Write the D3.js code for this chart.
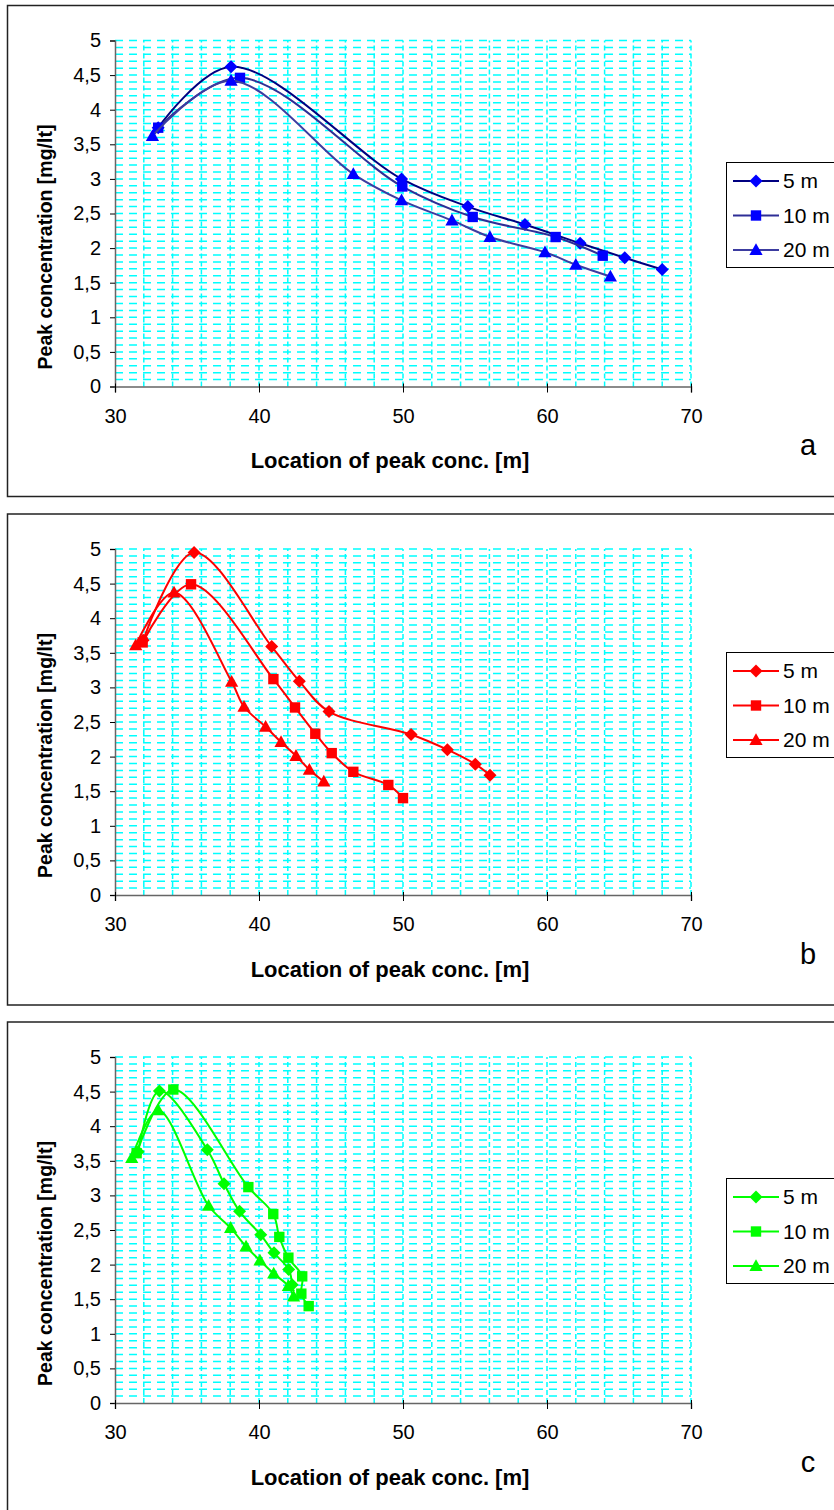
<!DOCTYPE html>
<html><head><meta charset="utf-8">
<script src="https://cdn.jsdelivr.net/npm/d3@7"></script>
<style>body{margin:0;background:#fff} svg{display:block}</style>
</head><body><svg id="chart" width="834" height="1510"></svg>
<script>
// ---------- data ----------
const xTicks = [30, 40, 50, 60, 70];
const yTicks = [0, 0.5, 1, 1.5, 2, 2.5, 3, 3.5, 4, 4.5, 5];
const yTickLabels = ["0", "0,5", "1", "1,5", "2", "2,5", "3", "3,5", "4", "4,5", "5"];
const seriesNames = ["5 m", "10 m", "20 m"];
const panelLetters = ["a", "b", "c"];
const xTitle = "Location of peak conc. [m]";
const yTitle = "Peak concentration [mg/lt]";

// panel a (blue)
const a5x  = [33.0, 38.06, 49.9, 54.5, 58.47, 62.3, 65.4, 68.0];
const a5y  = [3.74, 4.62, 3.0, 2.60, 2.34, 2.07, 1.86, 1.69];
const a10x = [33.0, 38.68, 49.95, 54.84, 60.6, 63.87];
const a10y = [3.74, 4.46, 2.89, 2.45, 2.16, 1.89];
const a20x = [32.6, 38.06, 46.55, 49.9, 53.4, 56.04, 59.86, 62.0, 64.4];
const a20y = [3.62, 4.42, 3.07, 2.69, 2.40, 2.16, 1.94, 1.76, 1.59];

// panel b (red)
const b5x  = [31.95, 35.49, 40.88, 42.8, 44.86, 50.56, 53.08, 55.02, 56.04];
const b5y  = [3.68, 4.95, 3.59, 3.09, 2.65, 2.32, 2.10, 1.89, 1.73];
const b10x = [31.92, 35.28, 41.0, 42.5, 43.91, 45.05, 46.55, 48.98, 50.0];
const b10y = [3.65, 4.49, 3.12, 2.71, 2.33, 2.05, 1.78, 1.59, 1.40];
const b20x = [31.44, 34.1, 38.1, 38.96, 40.46, 41.53, 42.57, 43.5, 44.5];
const b20y = [3.61, 4.37, 3.08, 2.72, 2.43, 2.21, 2.01, 1.81, 1.64];

// panel c (green)
const c5x  = [31.6, 33.08, 36.41, 37.57, 38.65, 40.12, 41.04, 42.06, 42.3];
const c5y  = [3.63, 4.51, 3.66, 3.17, 2.77, 2.43, 2.17, 1.93, 1.71];
const c10x = [31.5, 34.05, 39.26, 40.99, 41.41, 42.04, 43.0, 42.94, 43.45];
const c10y = [3.61, 4.53, 3.12, 2.73, 2.40, 2.10, 1.83, 1.58, 1.40];
const c20x = [31.16, 33.0, 36.5, 38.03, 39.1, 40.07, 41.02, 42.04, 42.4];
const c20y = [3.54, 4.23, 2.85, 2.53, 2.26, 2.06, 1.87, 1.69, 1.54];

const panelSeries = [
  [[a5x, a5y], [a10x, a10y], [a20x, a20y]],
  [[b5x, b5y], [b10x, b10y], [b20x, b20y]],
  [[c5x, c5y], [c10x, c10y], [c20x, c20y]]
];
const markerColors = ["#0000FF", "#FF0000", "#00FF00"];
const lineColors = [["#000080", "#2E2E96", "#3C3CA0"], ["#FF0000", "#FF0000", "#FF0000"], ["#00FF00", "#00FF00", "#00FF00"]];
const markerTypes = ["diamond", "square", "triangle"];

// ---------- layout ----------
const panelOffsets = [0, 508.5, 1016.5];
const legendTops = [162, 652, 1178];
const svg = d3.select("#chart");
const FONT = "'Liberation Sans', Arial, sans-serif";

function markerPath(type) {
  if (type === "diamond") return "M0,-6.5L6.5,0L0,6.5L-6.5,0Z";
  if (type === "square") return "M-5.2,-5.2H5.2V5.2H-5.2Z";
  return "M0,-6.8L6.6,5H-6.6Z";
}

panelOffsets.forEach((off, p) => {
  const g = svg.append("g");
  const x = d3.scaleLinear().domain([30, 70]).range([115, 691]);
  const y = d3.scaleLinear().domain([0, 5]).range([386.5 + off, 40.5 + off]);

  // panel border
  g.append("rect").attr("x", 7.5).attr("y", 5.5 + off).attr("width", 900).attr("height", 491)
    .attr("fill", "none").attr("stroke", "#222").attr("stroke-width", 1.5);

  // grid
  const hGrid = d3.range(1, 51).map(i => i / 10);
  g.append("g").selectAll("line").data(hGrid).join("line")
    .attr("x1", x(30)).attr("x2", x(70))
    .attr("y1", d => y(d)).attr("y2", d => y(d))
    .attr("stroke", "#00FFFF").attr("stroke-width", 1.5).attr("stroke-dasharray", "8,6");
  const vGrid = d3.range(32, 71, 2);
  g.append("g").selectAll("line").data(vGrid).join("line")
    .attr("x1", d => x(d)).attr("x2", d => x(d))
    .attr("y1", y(0)).attr("y2", y(5))
    .attr("stroke", "#00FFFF").attr("stroke-width", 1.5).attr("stroke-dasharray", "5,3");

  // axes
  const yAxis = d3.axisLeft(y).tickValues(yTicks).tickSize(5).tickFormat((d, i) => yTickLabels[i]);
  const ya = g.append("g").attr("transform", `translate(${x(30)},0)`).call(yAxis);
  const xAxis = d3.axisBottom(x).tickValues(xTicks).tickSize(6).tickFormat(d => d);
  const xa = g.append("g").attr("transform", `translate(0,${y(0)})`).call(xAxis);
  [ya, xa].forEach(a => {
    a.select(".domain").attr("stroke", "#666").attr("stroke-width", 1.5);
    a.selectAll(".tick line").attr("stroke", "#000").attr("stroke-width", 1);
    a.selectAll("text").attr("font-family", FONT).attr("font-size", 20).attr("fill", "#000");
  });
  ya.selectAll(".tick text").attr("x", -14);
  xa.selectAll(".tick text").attr("y", 22);
  xa.selectAll(".tick line").attr("y1", -3);

  // titles
  g.append("text").attr("x", 390).attr("y", 468 + off).attr("text-anchor", "middle")
    .attr("font-family", FONT).attr("font-weight", "bold").attr("font-size", 22).text(xTitle);
  g.append("text").attr("transform", `translate(52,${247 + off}) rotate(-90)`).attr("text-anchor", "middle")
    .attr("font-family", FONT).attr("font-weight", "bold").attr("font-size", 19.5).text(yTitle);
  g.append("text").attr("x", 808).attr("y", 455 + off).attr("text-anchor", "middle")
    .attr("font-family", FONT).attr("font-size", 29).text(panelLetters[p]);

  // series
  const line = d3.line().x(d => x(d[0])).y(d => y(d[1])).curve(d3.curveCatmullRom.alpha(0.5));
  panelSeries[p].forEach((s, k) => {
    const pts = s[0].map((v, i) => [v, s[1][i]]);
    g.append("path").datum(pts).attr("d", line).attr("fill", "none")
      .attr("stroke", lineColors[p][k]).attr("stroke-width", 2);
    g.append("g").selectAll("path").data(pts).join("path")
      .attr("transform", d => `translate(${x(d[0])},${y(d[1])})`)
      .attr("d", markerPath(markerTypes[k])).attr("fill", markerColors[p]);
  });

  // legend
  const lt = legendTops[p];
  const lg = g.append("g");
  lg.append("rect").attr("x", 726.5).attr("y", lt + 0.5).attr("width", 200).attr("height", 105)
    .attr("fill", "#fff").attr("stroke", "#000").attr("stroke-width", 1);
  seriesNames.forEach((name, k) => {
    const ly = lt + 19 + k * 34.5;
    lg.append("line").attr("x1", 733).attr("x2", 779).attr("y1", ly).attr("y2", ly)
      .attr("stroke", lineColors[p][k]).attr("stroke-width", 1.8);
    lg.append("path").attr("transform", `translate(756,${ly})`).attr("d", markerPath(markerTypes[k]))
      .attr("fill", markerColors[p]);
    lg.append("text").attr("x", 783).attr("y", ly).attr("dy", "0.35em")
      .attr("font-family", FONT).attr("font-size", 21).text(name);
  });
});
</script>
</body></html>
